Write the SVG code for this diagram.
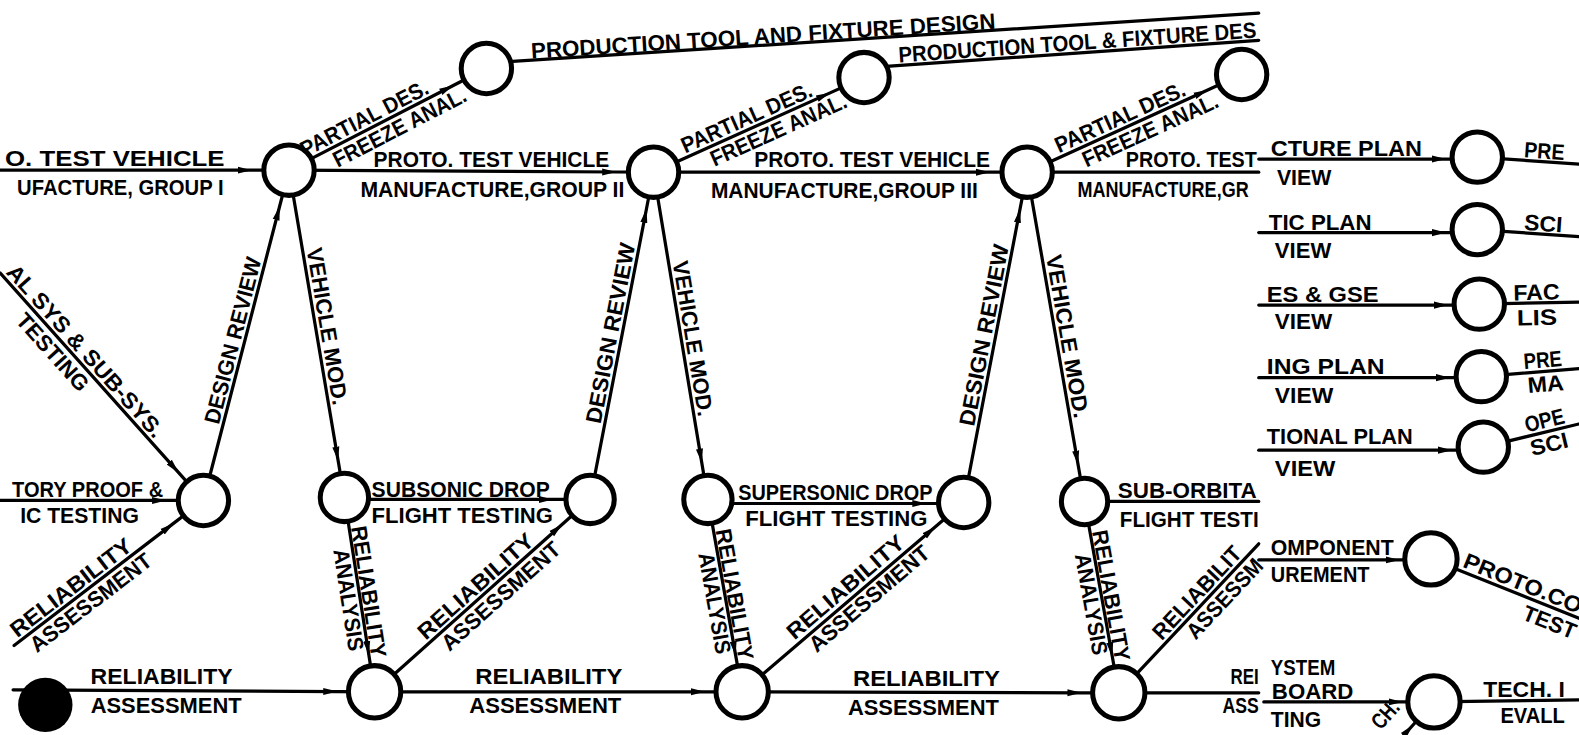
<svg xmlns="http://www.w3.org/2000/svg" width="1579" height="735" viewBox="0 0 1579 735">
<style>
.t{font-family:"Liberation Sans",Arial,sans-serif;font-weight:700;font-size:22px;fill:#000}
.m{text-anchor:middle}
.ln{stroke:#000;stroke-width:3.2;fill:none;stroke-linecap:round;marker-mid:url(#ah)}
.nd{fill:#fff;stroke:#000;stroke-width:5}
</style>
<defs>
<marker id="ah" markerUnits="userSpaceOnUse" markerWidth="16" markerHeight="10" refX="14" refY="5" orient="auto"><path d="M0,1.5 L14,5 L0,8.5 z" fill="#000"/></marker>
</defs>
<rect width="1579" height="735" fill="#fff"/>
<g transform="scale(1.007)">
<g id="connectors">
<path class="ln" d="M0,169 L250,169 L287,169"/>
<path class="ln" d="M287,169 L612,170.8 L649,171"/>
<path class="ln" d="M649,171 L983,171 L1020,171"/>
<path class="ln" d="M1020,171 L1250,171"/>
<path class="ln" d="M287,169 L450.1,84.9 L483,68"/>
<path class="ln" d="M649,171 L824.3,92.2 L858,77"/>
<path class="ln" d="M1020,171 L1199.3,89.4 L1233,74"/>
<path class="ln" d="M509,61 L1250,13"/>
<path class="ln" d="M880,66 L1250,40"/>
<path class="ln" d="M202,497 L277.7,204.8 L287,169"/>
<path class="ln" d="M287,169 L335.8,457.5 L342,494"/>
<path class="ln" d="M342,496 L549,496 L586,496"/>
<path class="ln" d="M586,496 L642,207.3 L649,171"/>
<path class="ln" d="M649,171 L696.9,459.5 L703,496"/>
<path class="ln" d="M703,500 L920,500 L957,500"/>
<path class="ln" d="M957,499 L1013,207.3 L1020,171"/>
<path class="ln" d="M1020,171 L1070.6,461.6 L1077,498"/>
<path class="ln" d="M1077,498 L1250,498"/>
<path class="ln" d="M0,271 L177.4,469.4 L202,497"/>
<path class="ln" d="M0,497 L165,497 L202,497"/>
<path class="ln" d="M14,641 L172.6,519.5 L202,497"/>
<path class="ln" d="M13,685 L335,686.8 L372,687"/>
<path class="ln" d="M342,494 L366.3,650.4 L372,687"/>
<path class="ln" d="M372,687 L558.4,520.6 L586,496"/>
<path class="ln" d="M372,687 L700,687 L737,687"/>
<path class="ln" d="M703,496 L730.5,650.6 L737,687"/>
<path class="ln" d="M737,687 L928.9,523 L957,499"/>
<path class="ln" d="M737,687 L1074,688 L1111,688"/>
<path class="ln" d="M1077,498 L1104.5,651.6 L1111,688"/>
<path class="ln" d="M1111,688 L1250,540"/>
<path class="ln" d="M1111,688 L1250,688"/>
<path class="ln" d="M1250,158 L1436,158 L1467,158"/>
<path class="ln" d="M1250,231 L1436,231 L1467,231"/>
<path class="ln" d="M1250,303 L1438,303 L1469,303"/>
<path class="ln" d="M1250,375 L1440,375 L1471,375"/>
<path class="ln" d="M1250,447 L1442,447 L1473,447"/>
<path class="ln" d="M1250,556 L1390,556 L1421,556"/>
<path class="ln" d="M1255,697 L1393,697 L1424,697"/>
<path class="ln" d="M1467,156 L1568,163"/>
<path class="ln" d="M1467,228 L1568,235"/>
<path class="ln" d="M1469,302 L1568,300"/>
<path class="ln" d="M1471,374 L1568,366"/>
<path class="ln" d="M1473,444 L1568,421"/>
<path class="ln" d="M1421,555 L1568,614"/>
<path class="ln" d="M1424,697 L1568,695"/>
<path class="ln" d="M1385,740 L1403.2,720 L1424,697"/>
</g>
<g id="labels">
<g transform="translate(528,61.2) rotate(-3.7)"><text class="t" x="0" y="-3" textLength="462" lengthAdjust="spacingAndGlyphs">PRODUCTION TOOL AND FIXTURE DESIGN</text></g>
<g transform="translate(893,65.1) rotate(-4)"><text class="t" x="0" y="-3" textLength="356" lengthAdjust="spacingAndGlyphs">PRODUCTION TOOL &amp; FIXTURE DES</text></g>
<g transform="translate(367,127.8) rotate(-27.3)"><text class="t m" y="-4" textLength="140" lengthAdjust="spacingAndGlyphs">PARTIAL DES.</text><text class="t m" x="27" y="20" textLength="146" lengthAdjust="spacingAndGlyphs">FREEZE ANAL.</text></g>
<g transform="translate(746,127.4) rotate(-24.2)"><text class="t m" y="-4" textLength="140" lengthAdjust="spacingAndGlyphs">PARTIAL DES.</text><text class="t m" x="24" y="20" textLength="146" lengthAdjust="spacingAndGlyphs">FREEZE ANAL.</text></g>
<g transform="translate(1117,126.9) rotate(-24.5)"><text class="t m" y="-4" textLength="140" lengthAdjust="spacingAndGlyphs">PARTIAL DES.</text><text class="t m" x="22" y="20" textLength="146" lengthAdjust="spacingAndGlyphs">FREEZE ANAL.</text></g>
<text class="t" x="5" y="165" textLength="218" lengthAdjust="spacingAndGlyphs">O. TEST VEHICLE</text>
<text class="t" x="17" y="194" textLength="205" lengthAdjust="spacingAndGlyphs">UFACTURE, GROUP I</text>
<text class="t" x="371" y="166" textLength="234" lengthAdjust="spacingAndGlyphs">PROTO. TEST VEHICLE</text>
<text class="t" x="358" y="196" textLength="262" lengthAdjust="spacingAndGlyphs">MANUFACTURE,GROUP II</text>
<text class="t" x="749" y="166" textLength="234" lengthAdjust="spacingAndGlyphs">PROTO. TEST VEHICLE</text>
<text class="t" x="706" y="197" textLength="265" lengthAdjust="spacingAndGlyphs">MANUFACTURE,GROUP III</text>
<text class="t" x="1118" y="166" textLength="130" lengthAdjust="spacingAndGlyphs">PROTO. TEST</text>
<text class="t" x="1070" y="196" textLength="170" lengthAdjust="spacingAndGlyphs">MANUFACTURE,GR</text>
<g transform="translate(242.4,341) rotate(-75.5)"><text class="t m" y="-4" textLength="170" lengthAdjust="spacingAndGlyphs">DESIGN REVIEW</text></g>
<g transform="translate(313.6,326) rotate(80.4)"><text class="t m" y="-4" textLength="158" lengthAdjust="spacingAndGlyphs">VEHICLE MOD.</text></g>
<g transform="translate(617.6,333) rotate(-79)"><text class="t m" y="-4" textLength="182" lengthAdjust="spacingAndGlyphs">DESIGN REVIEW</text></g>
<g transform="translate(676.7,338) rotate(80.6)"><text class="t m" y="-4" textLength="156" lengthAdjust="spacingAndGlyphs">VEHICLE MOD.</text></g>
<g transform="translate(988.5,335) rotate(-79.1)"><text class="t m" y="-4" textLength="183" lengthAdjust="spacingAndGlyphs">DESIGN REVIEW</text></g>
<g transform="translate(1048.8,336) rotate(80.1)"><text class="t m" y="-4" textLength="164" lengthAdjust="spacingAndGlyphs">VEHICLE MOD.</text></g>
<g transform="translate(76.2,356.2) rotate(48.2)"><text class="t m" y="-4" textLength="222" lengthAdjust="spacingAndGlyphs">AL SYS &amp; SUB-SYS.</text></g>
<g transform="translate(62.3,340.7) rotate(48.2)"><text class="t m" y="21" textLength="96" lengthAdjust="spacingAndGlyphs">TESTING</text></g>
<text class="t" x="12" y="494" textLength="150" lengthAdjust="spacingAndGlyphs">TORY PROOF &amp;</text>
<text class="t" x="20" y="519" textLength="118" lengthAdjust="spacingAndGlyphs">IC TESTING</text>
<g transform="translate(77.4,592.5) rotate(-37.5)"><text class="t m" y="-4" textLength="146" lengthAdjust="spacingAndGlyphs">RELIABILITY</text></g>
<g transform="translate(82.5,588.5) rotate(-37.5)"><text class="t m" y="20" textLength="146" lengthAdjust="spacingAndGlyphs">ASSESSMENT</text></g>
<text class="t" x="369" y="494" textLength="177" lengthAdjust="spacingAndGlyphs">SUBSONIC DROP</text>
<text class="t" x="369" y="519" textLength="180" lengthAdjust="spacingAndGlyphs">FLIGHT TESTING</text>
<text class="t" x="733" y="497" textLength="193" lengthAdjust="spacingAndGlyphs">SUPERSONIC DROP</text>
<text class="t" x="740" y="522" textLength="181" lengthAdjust="spacingAndGlyphs">FLIGHT TESTING</text>
<text class="t" x="1110" y="495" textLength="138" lengthAdjust="spacingAndGlyphs">SUB-ORBITA</text>
<text class="t" x="1112" y="523" textLength="138" lengthAdjust="spacingAndGlyphs">FLIGHT TESTI</text>
<g transform="translate(356.8,589) rotate(81.2)"><text class="t m" y="-2" textLength="132" lengthAdjust="spacingAndGlyphs">RELIABILITY</text></g>
<g transform="translate(357.5,594) rotate(81.2)"><text class="t m" y="19" textLength="102" lengthAdjust="spacingAndGlyphs">ANALYSIS</text></g>
<g transform="translate(720.1,592) rotate(79.9)"><text class="t m" y="-2" textLength="132" lengthAdjust="spacingAndGlyphs">RELIABILITY</text></g>
<g transform="translate(721,597) rotate(79.9)"><text class="t m" y="19" textLength="102" lengthAdjust="spacingAndGlyphs">ANALYSIS</text></g>
<g transform="translate(1094,593) rotate(79.9)"><text class="t m" y="-2" textLength="132" lengthAdjust="spacingAndGlyphs">RELIABILITY</text></g>
<g transform="translate(1095,598) rotate(79.9)"><text class="t m" y="19" textLength="102" lengthAdjust="spacingAndGlyphs">ANALYSIS</text></g>
<g transform="translate(480,590.6) rotate(-41.7)"><text class="t m" y="-4" textLength="146" lengthAdjust="spacingAndGlyphs">RELIABILITY</text></g>
<g transform="translate(489,582.6) rotate(-41.7)"><text class="t m" y="20" textLength="150" lengthAdjust="spacingAndGlyphs">ASSESSMENT</text></g>
<g transform="translate(847,591.7) rotate(-40.5)"><text class="t m" y="-4" textLength="146" lengthAdjust="spacingAndGlyphs">RELIABILITY</text></g>
<g transform="translate(855,584.9) rotate(-40.5)"><text class="t m" y="20" textLength="150" lengthAdjust="spacingAndGlyphs">ASSESSMENT</text></g>
<g transform="translate(1197,596.4) rotate(-46.8)"><text class="t m" y="-4" textLength="118" lengthAdjust="spacingAndGlyphs">RELIABILIT</text></g>
<g transform="translate(1207,585.8) rotate(-46.8)"><text class="t m" y="20" textLength="100" lengthAdjust="spacingAndGlyphs">ASSESSM</text></g>
<text class="t" x="90" y="679" textLength="141" lengthAdjust="spacingAndGlyphs">RELIABILITY</text>
<text class="t" x="90" y="708" textLength="150" lengthAdjust="spacingAndGlyphs">ASSESSMENT</text>
<text class="t" x="472" y="679" textLength="146" lengthAdjust="spacingAndGlyphs">RELIABILITY</text>
<text class="t" x="466" y="708" textLength="151" lengthAdjust="spacingAndGlyphs">ASSESSMENT</text>
<text class="t" x="847" y="681" textLength="146" lengthAdjust="spacingAndGlyphs">RELIABILITY</text>
<text class="t" x="842" y="710" textLength="150" lengthAdjust="spacingAndGlyphs">ASSESSMENT</text>
<text class="t" x="1222" y="679" textLength="28" lengthAdjust="spacingAndGlyphs">REI</text>
<text class="t" x="1214" y="708" textLength="36" lengthAdjust="spacingAndGlyphs">ASS</text>
<text class="t" x="1262" y="155" textLength="150" lengthAdjust="spacingAndGlyphs">CTURE PLAN</text>
<text class="t" x="1268" y="184" textLength="54" lengthAdjust="spacingAndGlyphs">VIEW</text>
<text class="t" x="1260" y="228" textLength="102" lengthAdjust="spacingAndGlyphs">TIC PLAN</text>
<text class="t" x="1266" y="256" textLength="56" lengthAdjust="spacingAndGlyphs">VIEW</text>
<text class="t" x="1258" y="300" textLength="111" lengthAdjust="spacingAndGlyphs">ES &amp; GSE</text>
<text class="t" x="1266" y="327" textLength="57" lengthAdjust="spacingAndGlyphs">VIEW</text>
<text class="t" x="1258" y="371" textLength="117" lengthAdjust="spacingAndGlyphs">ING PLAN</text>
<text class="t" x="1266" y="400" textLength="58" lengthAdjust="spacingAndGlyphs">VIEW</text>
<text class="t" x="1258" y="441" textLength="145" lengthAdjust="spacingAndGlyphs">TIONAL PLAN</text>
<text class="t" x="1266" y="473" textLength="60" lengthAdjust="spacingAndGlyphs">VIEW</text>
<text class="t" x="1262" y="551" textLength="122" lengthAdjust="spacingAndGlyphs">OMPONENT</text>
<text class="t" x="1262" y="578" textLength="98" lengthAdjust="spacingAndGlyphs">UREMENT</text>
<text class="t" x="1262" y="670" textLength="64" lengthAdjust="spacingAndGlyphs">YSTEM</text>
<text class="t" x="1263" y="694" textLength="81" lengthAdjust="spacingAndGlyphs">BOARD</text>
<text class="t" x="1262" y="722" textLength="50" lengthAdjust="spacingAndGlyphs">TING</text>
<text class="t" x="1473" y="692" textLength="81" lengthAdjust="spacingAndGlyphs">TECH. I</text>
<text class="t" x="1490" y="718" textLength="64" lengthAdjust="spacingAndGlyphs">EVALL</text>
<g transform="translate(1513,159.2) rotate(4)"><text class="t" y="-3" textLength="40" lengthAdjust="spacingAndGlyphs">PRE</text></g>
<g transform="translate(1513,231.2) rotate(4)"><text class="t" y="-3" textLength="38" lengthAdjust="spacingAndGlyphs">SCI</text></g>
<g transform="translate(1503,301.3) rotate(-1.2)"><text class="t" y="-3" textLength="46" lengthAdjust="spacingAndGlyphs">FAC</text><text class="t" x="3" y="22" textLength="40" lengthAdjust="spacingAndGlyphs">LIS</text></g>
<g transform="translate(1514,370.5) rotate(-4.7)"><text class="t" y="-4" textLength="38" lengthAdjust="spacingAndGlyphs">PRE</text><text class="t" x="2" y="20" textLength="36" lengthAdjust="spacingAndGlyphs">MA</text></g>
<g transform="translate(1517,433.4) rotate(-13.6)"><text class="t" y="-4" textLength="40" lengthAdjust="spacingAndGlyphs">OPE</text><text class="t" y="20" textLength="38" lengthAdjust="spacingAndGlyphs">SCI</text></g>
<g transform="translate(1450,566.6) rotate(21.9)"><text class="t" y="-4" textLength="125" lengthAdjust="spacingAndGlyphs">PROTO.CO</text><text class="t" x="74" y="22" textLength="55" lengthAdjust="spacingAndGlyphs">TEST</text></g>
<g transform="translate(1385,718) rotate(-47.8)"><text class="t m" y="-5" font-size="19" textLength="30" lengthAdjust="spacingAndGlyphs">CH.</text></g>
</g>
<g id="T1"><circle class="nd" cx="483" cy="68" r="25"/></g>
<g id="T2"><circle class="nd" cx="858" cy="77" r="25"/></g>
<g id="T3"><circle class="nd" cx="1233" cy="74" r="25"/></g>
<g id="M1"><circle class="nd" cx="287" cy="169" r="25"/></g>
<g id="M2"><circle class="nd" cx="649" cy="171" r="25"/></g>
<g id="M3"><circle class="nd" cx="1020" cy="171" r="25"/></g>
<g id="L1"><circle class="nd" cx="202" cy="497" r="25"/></g>
<g id="S1"><circle class="nd" cx="342" cy="494" r="24"/></g>
<g id="S1b"><circle class="nd" cx="586" cy="496" r="24"/></g>
<g id="S2"><circle class="nd" cx="703" cy="496" r="24"/></g>
<g id="S2b"><circle class="nd" cx="957" cy="499" r="25"/></g>
<g id="S3"><circle class="nd" cx="1077" cy="498" r="23"/></g>
<g id="BK"><circle cx="45" cy="700" r="27" fill="#000"/></g>
<g id="B1"><circle class="nd" cx="372" cy="687" r="26"/></g>
<g id="B2"><circle class="nd" cx="737" cy="687" r="26"/></g>
<g id="B3"><circle class="nd" cx="1111" cy="688" r="26"/></g>
<g id="R1"><circle class="nd" cx="1467" cy="156" r="25"/></g>
<g id="R2"><circle class="nd" cx="1467" cy="228" r="25"/></g>
<g id="R3"><circle class="nd" cx="1469" cy="302" r="25"/></g>
<g id="R4"><circle class="nd" cx="1471" cy="374" r="25"/></g>
<g id="R5"><circle class="nd" cx="1473" cy="444" r="25"/></g>
<g id="R6"><circle class="nd" cx="1421" cy="555" r="26"/></g>
<g id="R7"><circle class="nd" cx="1424" cy="697" r="26"/></g>
</g>
</svg>
